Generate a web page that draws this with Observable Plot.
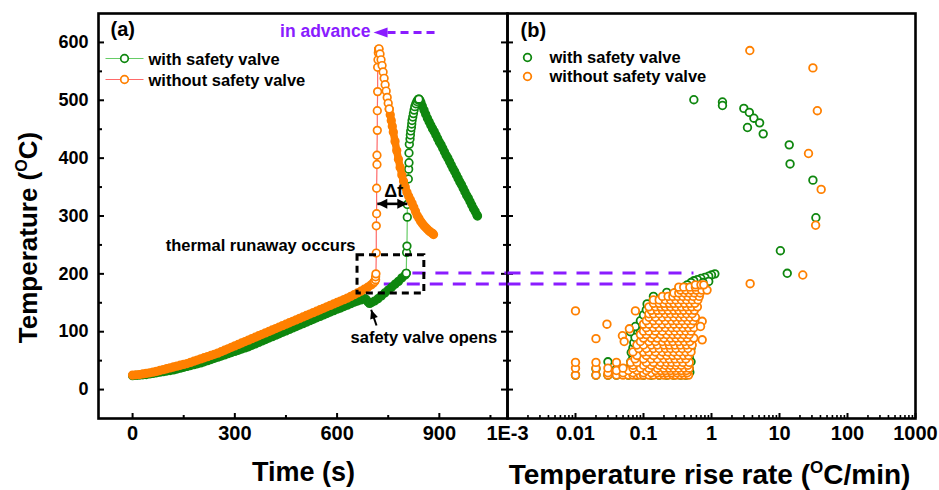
<!DOCTYPE html>
<html><head><meta charset="utf-8">
<script src="https://cdn.jsdelivr.net/npm/d3@7"></script>
<script src="https://cdn.jsdelivr.net/npm/@observablehq/plot@0.6"></script>
<style>
html,body{margin:0;padding:0;background:#fff;}
#wrap{position:relative;width:939px;height:490px;overflow:hidden;background:#fff;}
#wrap svg{position:absolute;top:0;}
</style></head><body><div id="wrap"></div>
<script>
// ---------- data: panel (a) temperature vs time ----------
const greenRise = [[0,24],[10,24.5],[20,25],[30,25.5],[40,26],[50,27],[60,28],[70,29],[80,30],[90,31],[100,32],[110,33],[120,34],[130,35.5],[140,37],[150,38.5],[160,40],[170,41.5],[180,43],[190,44.5],[200,46],[210,48],[220,50],[230,52],[240,54],[250,56],[260,58],[270,60],[280,62],[290,64],[300,66],[310,68],[320,70],[330,72],[340,74],[350,76.5],[360,79],[370,81.5],[380,84],[390,86.5],[400,89],[410,91.5],[420,94],[430,96.5],[440,99],[450,101.5],[460,104],[470,106.5],[480,109],[490,111.5],[500,114],[510,116.5],[520,119],[530,121.5],[540,124],[550,126.5],[560,129],[570,131.5],[580,134],[590,136.5],[600,139],[610,141],[620,143.5],[630,146],[640,148.5],[650,151],[660,153],[670,155],[680,157],[685,156],[690,152],[695,149],[700,150],[710,153],[720,157],[730,162],[740,167],[750,172],[760,177],[770,182],[780,187],[790,193],[800,198],[803,201]];
const greenJump = [[803,201],[804,237],[805,248],[806,298],[806,320],[809,364],[810,381],[811,392],[811,409],[812,424],[814,433],[815,440],[816,447],[818,453],[819,459],[820,465],[822,471],[824,477],[826,483],[828,489],[831,494],[834,498],[837,501],[840,502]];
const greenFall = [[840,502],[843,500],[846,496],[850,490],[855,483],[860,476],[865,469],[870,463],[875,457],[880,451],[885,446],[890,440],[895,434],[900,428],[905,423],[910,417],[915,411],[920,405],[925,400],[930,394],[935,388],[940,382],[945,377],[950,371],[955,365],[960,359],[965,354],[970,348],[975,342],[980,336],[985,331],[990,325],[995,319],[1000,313],[1005,308],[1010,302],[1012,300]];

const orangeRise = [[0,25],[10,25.5],[20,26],[30,27],[40,28],[50,29],[60,30],[70,31.5],[80,33],[90,34.5],[100,36],[110,37.5],[120,39],[130,40.5],[140,42],[150,43.5],[160,45],[170,47],[180,49],[190,51],[200,53],[210,55],[220,57],[230,59],[240,61],[250,63],[260,65.5],[270,68],[280,70.5],[290,73],[300,75.5],[310,78],[320,80.5],[330,83],[340,85.5],[350,88],[360,90.5],[370,93],[380,95.5],[390,98],[400,100.5],[410,103],[420,105.5],[430,108],[440,110.5],[450,113],[460,115.5],[470,118],[480,120.5],[490,123],[500,125.5],[510,128],[520,130.5],[530,133],[540,135.5],[550,138],[560,140.5],[570,143],[580,145.5],[590,148],[600,150.5],[610,153],[620,155.5],[630,158],[640,161],[650,164],[660,167],[670,170],[680,173.5],[690,177],[700,181],[706,184],[710,187]];
const orangeJump = [[710,187],[713,190],[713,195],[714,200],[715,236],[715,283],[716,304],[716,348],[717,389],[717,405],[718,448],[718,482],[719,515],[719,557],[720,570],[721,582],[722,588]];
const orangePeak = [[722,588],[723,589],[726,580],[729,570],[732,560],[735,549],[738,538],[741,527],[744,516],[747,505],[750,495],[753,485]];
const orangeFall = [[753,485],[756,475],[759,465],[762,455],[765,445],[770,429],[775,413],[780,398],[785,384],[790,371],[795,360],[800,350],[805,341],[810,334],[815,328],[820,322],[825,315],[830,308],[835,301],[840,296],[845,291],[850,287],[855,283],[860,280],[865,277],[870,274],[875,272],[880,270],[883,268]];

// ---------- data: panel (b) temperature vs rise rate ----------
const greenRateHigh = [[0.55,501],[1.45,497],[1.45,491],[2.99,486],[3.6,479],[4.2,469],[5.1,461],[3.38,453],[5.76,442],[13.9,423],[14.3,390],[31,362],[34.3,297],[10.3,240],[13,201]];
const greenRateChain = [[1.12,200],[1.0,198],[0.91,196],[0.8,194],[0.7,192],[0.62,190],[0.55,188],[0.5,185],[0.44,181],[0.4,177],[0.36,173],[0.91,187],[0.75,185],[0.6,178],[0.3,168],[0.27,163]];
const greenClusterRows = [
 [25,[0.01,0.02,0.03,0.04,0.06,0.08,0.1,0.13,0.17,0.22,0.28,0.35,0.42]],
 [30,[0.05,0.07,0.1,0.14,0.19,0.25,0.32,0.4,0.48]],
 [36,[0.02,0.04,0.06,0.09,0.13,0.18,0.24,0.31,0.39,0.47]],
 [42,[0.07,0.1,0.14,0.19,0.26,0.34,0.44]],
 [48,[0.03,0.065,0.09,0.12,0.17,0.23,0.3,0.38,0.5]],
 [56,[0.07,0.1,0.14,0.2,0.27,0.36,0.47]],
 [64,[0.066,0.09,0.13,0.18,0.25,0.33,0.44]],
 [72,[0.07,0.1,0.14,0.2,0.28,0.38,0.5]],
 [81,[0.072,0.1,0.14,0.2,0.28,0.38,0.5]],
 [90,[0.075,0.11,0.15,0.21,0.29,0.4,0.52]],
 [100,[0.064,0.09,0.13,0.18,0.25,0.35,0.47]],
 [109,[0.076,0.11,0.16,0.22,0.31,0.42]],
 [119,[0.09,0.12,0.17,0.24,0.33,0.45]],
 [129,[0.1,0.14,0.19,0.26,0.36,0.5]],
 [138,[0.11,0.15,0.21,0.29,0.4]],
 [144,[0.39]],
 [148,[0.113,0.16,0.22,0.31,0.43,0.58]],
 [156,[0.14,0.19,0.26,0.35,0.48]],
 [161,[0.14,0.21,0.3]],
 [168,[0.22,0.32,0.45,0.62]]
];
const orangeRateHigh = [[3.66,586],[31,556],[36,482],[26.7,408],[41,346],[34,284],[22,198],[3.7,183]];
const orangeRateLow = [[0.01,136],[0.029,113],[0.02,88],[0.049,93],[0.052,83],[0.076,136],[0.062,105],[0.73,118],[0.69,109],[0.73,86]];
const orangeClusterRows = [
 [25,[0.01,0.02,0.03,0.04,0.05,0.06,0.07,0.08,0.09,0.1,0.12,0.14,0.17,0.2,0.23,0.27,0.3,0.35,0.4,0.46]],
 [29,[0.03,0.05,0.07,0.1,0.13,0.16,0.19,0.22,0.26,0.31,0.37,0.44]],
 [33,[0.04,0.06,0.08,0.11,0.15,0.18,0.21,0.25,0.3,0.36,0.43]],
 [37,[0.01,0.02,0.03,0.05,0.07,0.09,0.12,0.16,0.2,0.24,0.28,0.33,0.4,0.47]],
 [42,[0.07,0.1,0.13,0.17,0.21,0.25,0.3,0.36,0.45]],
 [47,[0.01,0.02,0.04,0.065,0.08,0.11,0.14,0.18,0.22,0.26,0.31,0.38,0.47]],
 [53,[0.075,0.1,0.13,0.16,0.2,0.24,0.29,0.35,0.42]],
 [59,[0.08,0.11,0.14,0.18,0.22,0.27,0.32,0.39,0.46]],
 [65,[0.07,0.1,0.12,0.15,0.19,0.23,0.28,0.34,0.42,0.5]],
 [71,[0.085,0.11,0.14,0.17,0.21,0.25,0.3,0.37,0.45]],
 [77,[0.08,0.1,0.13,0.16,0.2,0.24,0.29,0.35,0.43,0.52]],
 [83,[0.09,0.12,0.15,0.19,0.23,0.27,0.33,0.4,0.48]],
 [89,[0.1,0.13,0.16,0.2,0.25,0.3,0.36,0.44,0.55]],
 [95,[0.09,0.11,0.14,0.18,0.22,0.27,0.32,0.39,0.47]],
 [101,[0.1,0.12,0.15,0.19,0.24,0.29,0.35,0.42,0.5]],
 [107,[0.11,0.14,0.17,0.21,0.26,0.31,0.38,0.46,0.55]],
 [113,[0.1,0.12,0.15,0.19,0.23,0.28,0.34,0.41,0.5]],
 [119,[0.11,0.14,0.17,0.21,0.26,0.31,0.37,0.45,0.54]],
 [125,[0.12,0.15,0.19,0.23,0.28,0.34,0.4,0.48,0.58]],
 [131,[0.12,0.14,0.17,0.21,0.25,0.3,0.36,0.43,0.52]],
 [137,[0.13,0.16,0.19,0.23,0.28,0.33,0.39,0.47,0.56]],
 [143,[0.12,0.15,0.18,0.21,0.25,0.3,0.36,0.43,0.51,0.62]],
 [149,[0.14,0.17,0.2,0.24,0.28,0.33,0.4,0.48,0.57]],
 [155,[0.14,0.17,0.21,0.25,0.3,0.36,0.43,0.52,0.63]],
 [161,[0.19,0.23,0.27,0.32,0.38,0.45,0.54,0.66]],
 [167,[0.28,0.33,0.4,0.47,0.56,0.68]],
 [172,[0.35,0.42,0.5,0.6,0.72,0.86]],
 [177,[0.33,0.39,0.48,0.58]],
 [181,[0.58,0.7,0.77]]
];

// ---------- ticks ----------
const tempTicks = [0,100,200,300,400,500,600];
const tempMinor = [50,150,250,350,450,550];
const timeTicks = [0,300,600,900];
const timeMinor = [150,450,750,1050];
const rateTicks = [0.001,0.01,0.1,1,10,100,1000];
const rateTickLabels = ["1E-3","0.01","0.1","1","10","100","1000"];
const rateMinor = rateTicks.slice(0,-1).flatMap(d => [2,3,4,5,6,7,8,9].map(m => d*m));

// ---------- annotations ----------
const boxData = [{t1:660, t2:856, T1:166, T2:232}];
const dashLeft = [{t1:821, t2:1100, T:201.5},{t1:737, t2:1100, T:182.5}];
const dashRight = [{r1:0.001, r2:0.543, T:201.5},{r1:0.001, r2:0.211, T:182.5}];
const advance = {tTip:707, tBase:748, tEnd:895, T:617};
const deltaT = {t1:718, t2:806, T:321};
const valveArrow = {tTail:715.7, TTail:110.8, tTip:700, TTip:138};

// ---------- styling ----------
const FONT = "'Liberation Sans', Arial, Helvetica, sans-serif";
const GREEN = "#0f870f", ORANGE = "#ff8000", GREEN_LINE = "#66cc66", ORANGE_LINE = "#ff6a6a", PURPLE = "#8a1cff";
const H = 490, MT = 13, MB = 72;
const LW = 540, LML = 98, LMR = 33, FWL = LW - LML - LMR;
const RW = 472, RML = 40, RMR = 24, FWR = RW - RML - RMR;
const FH = H - MT - MB;

const TT = a => a.map(([t,T]) => ({t,T}));
const RT = a => a.map(([r,T]) => ({r,T}));
const rows = rs => rs.flatMap(([T, rates]) => rates.map(r => ({r,T})));

function head(angleDeg, L, W) {
  const a = angleDeg*Math.PI/180, c = Math.cos(a), s = Math.sin(a);
  const p = [[0,0],[-L,-W],[-L,W]].map(([x,y]) => [x*c - y*s, x*s + y*c]);
  return {draw(ctx){ ctx.moveTo(p[0][0],p[0][1]); ctx.lineTo(p[1][0],p[1][1]); ctx.lineTo(p[2][0],p[2][1]); ctx.closePath(); }};
}
const legendLine = {draw(ctx){ ctx.moveTo(-19,0); ctx.lineTo(19,0); }};
const svgStyle = {fontFamily: FONT, fontWeight: "bold", fontSize: "18px", background: "transparent", overflow: "visible", color: "black"};
const ring = (data, stroke, fill) => Plot.dot(data, {x: "t", y: "T", r: 3.8, stroke, strokeWidth: 1.7, fill});
const ringR = (data, stroke) => Plot.dot(data, {x: "r", y: "T", r: 3.8, stroke, strokeWidth: 1.8, fill: "white"});

const greenAll = TT(greenRise.concat(greenJump, greenFall));
const orangeAll = TT(orangeRise.concat(orangeJump, orangePeak, orangeFall));

const left = Plot.plot({
  width: LW, height: H, marginLeft: LML, marginRight: LMR, marginTop: MT, marginBottom: MB,
  style: svgStyle,
  x: {domain: [-100, 1100], axis: null},
  y: {domain: [-50, 650], axis: null},
  marks: [
    Plot.frame({stroke: "black", strokeWidth: 2.6}),
    Plot.tickY(tempTicks, {insetRight: FWL - 6, stroke: "black", strokeWidth: 2}),
    Plot.tickY(tempMinor, {insetRight: FWL - 4, stroke: "black", strokeWidth: 2}),
    Plot.tickY(tempTicks, {insetLeft: FWL - 6, stroke: "black", strokeWidth: 2}),
    Plot.tickY(tempMinor, {insetLeft: FWL - 4, stroke: "black", strokeWidth: 2}),
    Plot.tickX(timeTicks, {insetTop: FH - 5, stroke: "black", strokeWidth: 2}),
    Plot.tickX(timeMinor, {insetTop: FH - 3, stroke: "black", strokeWidth: 2}),
    Plot.axisY({ticks: tempTicks, tickSize: 0, tickPadding: 10, fontSize: 18, label: null}),
    Plot.axisX({ticks: timeTicks, tickSize: 0, tickPadding: 7, fontSize: 20, label: null}),
    Plot.link(dashLeft, {x1: "t1", x2: "t2", y1: "T", y2: "T", stroke: PURPLE, strokeWidth: 2.8, strokeDasharray: "13,10"}),
    // with safety valve
    Plot.line(greenAll, {x: "t", y: "T", stroke: GREEN_LINE, strokeWidth: 1.2}),
    Plot.line(TT(greenRise), {x: "t", y: "T", stroke: GREEN, strokeWidth: 7.5, strokeLinecap: "round", strokeLinejoin: "round"}),
    Plot.line(TT(greenFall), {x: "t", y: "T", stroke: GREEN, strokeWidth: 7.5, strokeLinecap: "round", strokeLinejoin: "round"}),
    ring(TT(greenRise), GREEN, "none"),
    ring(TT(greenFall), GREEN, "none"),
    ring(TT(greenJump), GREEN, "white"),
    // without safety valve
    Plot.line(orangeAll, {x: "t", y: "T", stroke: ORANGE_LINE, strokeWidth: 1.2}),
    Plot.line(TT(orangeRise), {x: "t", y: "T", stroke: ORANGE, strokeWidth: 7.5, strokeLinecap: "round", strokeLinejoin: "round"}),
    Plot.line(TT(orangeFall), {x: "t", y: "T", stroke: ORANGE, strokeWidth: 7.5, strokeLinecap: "round", strokeLinejoin: "round"}),
    ring(TT(orangeRise), ORANGE, "none"),
    ring(TT(orangeFall), ORANGE, "none"),
    ring(TT(orangeJump), ORANGE, "white"),
    ring(TT(orangePeak), ORANGE, "white"),
    // annotations
    Plot.rect(boxData, {x1: "t1", x2: "t2", y1: "T1", y2: "T2", fill: "none", stroke: "black", strokeWidth: 3, strokeDasharray: "7,5"}),
    Plot.link([deltaT], {x1: "t1", x2: "t2", y1: "T", y2: "T", stroke: "black", strokeWidth: 2.6}),
    Plot.dot([deltaT], {x: "t1", y: "T", symbol: head(180, 10, 5), fill: "black", stroke: "none"}),
    Plot.dot([deltaT], {x: "t2", y: "T", symbol: head(0, 10, 5), fill: "black", stroke: "none"}),
    Plot.text(["Δt"], {x: [766], y: [332], textAnchor: "middle", lineAnchor: "bottom", fontSize: 18, fontWeight: "bold", fill: "black"}),
    Plot.link([advance], {x1: "tBase", x2: "tEnd", y1: "T", y2: "T", stroke: PURPLE, strokeWidth: 3, strokeDasharray: "8,5"}),
    Plot.dot([advance], {x: "tTip", y: "T", symbol: head(180, 14, 5), fill: PURPLE, stroke: "none"}),
    Plot.text(["in advance"], {x: [698], y: [610], textAnchor: "end", lineAnchor: "bottom", fontSize: 17.5, fontWeight: "bold", fill: PURPLE}),
    Plot.text(["thermal runaway occurs"], {x: [654], y: [239], textAnchor: "end", lineAnchor: "bottom", fontSize: 16.5, fontWeight: "bold", fill: "black"}),
    Plot.text(["safety valve opens"], {x: [639.5], y: [81], textAnchor: "start", lineAnchor: "bottom", fontSize: 16.5, fontWeight: "bold", fill: "black"}),
    Plot.link([valveArrow], {x1: "tTail", y1: "TTail", x2: "tTip", y2: "TTip", stroke: "black", strokeWidth: 2}),
    Plot.dot([valveArrow], {x: "tTip", y: "TTip", symbol: head(-108.6, 9, 4), fill: "black", stroke: "none"}),
    // panel label + legend
    Plot.text(["(a)"], {frameAnchor: "top-left", dx: 12, dy: 22, textAnchor: "start", lineAnchor: "bottom", fontSize: 20, fontWeight: "bold"}),
    Plot.dot([0], {frameAnchor: "top-left", dx: 26, dy: 45, symbol: legendLine, stroke: GREEN_LINE, strokeWidth: 1.2, fill: "none"}),
    Plot.dot([0], {frameAnchor: "top-left", dx: 26, dy: 45, r: 3.8, stroke: GREEN, strokeWidth: 1.7, fill: "white"}),
    Plot.dot([0], {frameAnchor: "top-left", dx: 26, dy: 66, symbol: legendLine, stroke: ORANGE_LINE, strokeWidth: 1.2, fill: "none"}),
    Plot.dot([0], {frameAnchor: "top-left", dx: 26, dy: 66, r: 3.8, stroke: ORANGE, strokeWidth: 1.7, fill: "white"}),
    Plot.text(["with safety valve"], {frameAnchor: "top-left", dx: 50, dy: 51, textAnchor: "start", lineAnchor: "bottom", fontSize: 16.5, fontWeight: "bold"}),
    Plot.text(["without safety valve"], {frameAnchor: "top-left", dx: 50, dy: 72, textAnchor: "start", lineAnchor: "bottom", fontSize: 16.5, fontWeight: "bold"}),
    // axis labels
    Plot.text(["Temperature (OC)"], {frameAnchor: "left", rotate: -90, dx: -62, dy: 21.5, textAnchor: "middle", lineAnchor: "bottom", fontSize: 26, fontWeight: "bold"}),
    Plot.text(["Time (s)"], {frameAnchor: "bottom", dx: 0.5, dy: 62, textAnchor: "middle", lineAnchor: "bottom", fontSize: 27, fontWeight: "bold"})
  ]
});

const right = Plot.plot({
  width: RW, height: H, marginLeft: RML, marginRight: RMR, marginTop: MT, marginBottom: MB,
  style: svgStyle,
  x: {type: "log", domain: [0.001, 1000], axis: null},
  y: {domain: [-50, 650], axis: null},
  marks: [
    Plot.frame({stroke: "black", strokeWidth: 2.6}),
    Plot.tickY(tempTicks, {insetRight: FWR - 6, stroke: "black", strokeWidth: 2}),
    Plot.tickY(tempMinor, {insetRight: FWR - 4, stroke: "black", strokeWidth: 2}),
    Plot.tickX(rateTicks, {insetTop: FH - 5, stroke: "black", strokeWidth: 2}),
    Plot.tickX(rateMinor, {insetTop: FH - 3, stroke: "black", strokeWidth: 1.6}),
    Plot.axisX({ticks: rateTicks, tickSize: 0, tickPadding: 7, fontSize: 20, label: null,
      tickFormat: d => rateTickLabels[rateTicks.indexOf(d)]}),
    Plot.link(dashRight, {x1: "r1", x2: "r2", y1: "T", y2: "T", stroke: PURPLE, strokeWidth: 2.8, strokeDasharray: "13,10"}),
    ringR(rows(greenClusterRows), GREEN),
    ringR(RT(greenRateChain), GREEN),
    ringR(RT(greenRateHigh), GREEN),
    ringR(rows(orangeClusterRows), ORANGE),
    ringR(RT(orangeRateLow), ORANGE),
    ringR(RT(orangeRateHigh), ORANGE),
    Plot.text(["(b)"], {frameAnchor: "top-left", dx: 13, dy: 23, textAnchor: "start", lineAnchor: "bottom", fontSize: 20, fontWeight: "bold"}),
    Plot.dot([0], {frameAnchor: "top-left", dx: 20, dy: 44, r: 3.8, stroke: GREEN, strokeWidth: 1.8, fill: "white"}),
    Plot.dot([0], {frameAnchor: "top-left", dx: 20, dy: 63, r: 3.8, stroke: ORANGE, strokeWidth: 1.8, fill: "white"}),
    Plot.text(["with safety valve"], {frameAnchor: "top-left", dx: 42, dy: 49, textAnchor: "start", lineAnchor: "bottom", fontSize: 16.5, fontWeight: "bold"}),
    Plot.text(["without safety valve"], {frameAnchor: "top-left", dx: 42, dy: 68, textAnchor: "start", lineAnchor: "bottom", fontSize: 16.5, fontWeight: "bold"}),
    Plot.text(["Temperature rise rate (OC/min)"], {frameAnchor: "bottom", dx: -2, dy: 65, textAnchor: "middle", lineAnchor: "bottom", fontSize: 28, fontWeight: "bold"})
  ]
});

function superO(svg, size, shift) {
  d3.select(svg).selectAll("text").each(function() {
    const t = this.textContent;
    const i = t.indexOf("(OC");
    if (i < 0 || this.querySelector("tspan")) return;
    const sel = d3.select(this);
    sel.text(null);
    sel.append("tspan").text(t.slice(0, i + 1));
    sel.append("tspan").attr("font-size", size).attr("dy", -shift).text("O");
    sel.append("tspan").attr("dy", shift).text(t.slice(i + 2));
  });
}
superO(left, 16, 10); superO(right, 17, 11);

const wrap = document.getElementById("wrap");
left.style.left = "0px";
right.style.left = (LML + FWL - RML) + "px";
wrap.appendChild(left);
wrap.appendChild(right);
</script></body></html>
